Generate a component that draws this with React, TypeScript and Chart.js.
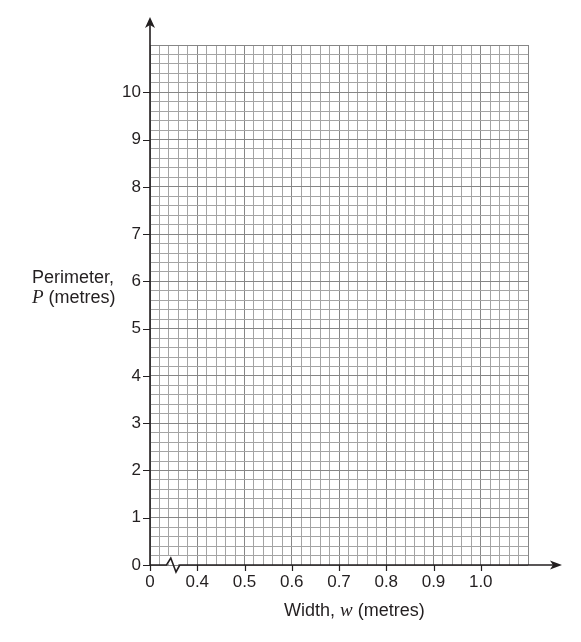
import React, { useEffect, useRef } from "react";
import { Chart, registerables } from "chart.js";

Chart.register(...registerables);

// ---- Data (blank answer grid) ----
// x axis has a break: its first position (0.3) is labelled "0"
const xAxisMin = 0.3;
const xAxisMax = 1.1;
const xMinorStep = 0.02;
const xTickValues = [0.3, 0.4, 0.5, 0.6, 0.7, 0.8, 0.9, 1.0];
const xTickLabels = ["0", "0.4", "0.5", "0.6", "0.7", "0.8", "0.9", "1.0"];

const yAxisMin = 0;
const yAxisMax = 11;
const yMinorStep = 0.2;
const yTickValues = [0, 1, 2, 3, 4, 5, 6, 7, 8, 9, 10];
const yTickLabels = ["0", "1", "2", "3", "4", "5", "6", "7", "8", "9", "10"];

// No points plotted: the grid is empty
const perimeterPoints: { x: number; y: number }[] = [];

const W = 581;
const H = 642;
const AREA_LEFT = 150;
const AREA_TOP = 45;
const AREA_RIGHT = 528;
const AREA_BOTTOM = 565;

const labelFont = { family: "'Liberation Sans', Arial, sans-serif", size: 17 };
const textColor = "#231f20";

function findLabel(values: number[], labels: string[], v: number): string {
  for (let i = 0; i < values.length; i++) {
    if (Math.abs(values[i] - v) < 1e-6) return labels[i];
  }
  return "";
}

const axesPlugin = {
  id: "axesPlugin",
  afterDraw(chart: any) {
    const ctx = chart.ctx as CanvasRenderingContext2D;
    const xs = chart.scales.x;
    const ys = chart.scales.y;
    const x0 = xs.getPixelForValue(xAxisMin);
    const y0 = ys.getPixelForValue(yAxisMin);
    const yTopPix = ys.getPixelForValue(yAxisMax);
    const xRightPix = xs.getPixelForValue(xAxisMax);
    ctx.save();
    ctx.strokeStyle = "#231f20";
    ctx.fillStyle = "#231f20";
    ctx.lineWidth = 1.6;
    ctx.lineJoin = "miter";

    // y axis line
    const yTip = yTopPix - 28;
    ctx.beginPath();
    ctx.moveTo(x0, y0);
    ctx.lineTo(x0, yTip + 8);
    ctx.stroke();
    // y arrowhead (notched)
    ctx.beginPath();
    ctx.moveTo(x0, yTip);
    ctx.lineTo(x0 + 5, yTip + 11);
    ctx.lineTo(x0, yTip + 8);
    ctx.lineTo(x0 - 5, yTip + 11);
    ctx.closePath();
    ctx.fill();

    // x axis line with zigzag break
    const zA = xs.getPixelForValue(0.335);
    const zB = xs.getPixelForValue(0.344);
    const zC = xs.getPixelForValue(0.355);
    const zD = xs.getPixelForValue(0.363);
    const xTip = xRightPix + 34;
    // mask under zigzag
    ctx.fillStyle = "#ffffff";
    ctx.fillRect(zA + 1, y0 - 9, zD - zA - 1, 8);
    ctx.fillStyle = "#231f20";
    ctx.beginPath();
    ctx.moveTo(x0, y0);
    ctx.lineTo(zA, y0);
    ctx.lineTo(zB, y0 - 7);
    ctx.lineTo(zC, y0 + 7);
    ctx.lineTo(zD, y0);
    ctx.lineTo(xTip - 8, y0);
    ctx.stroke();
    // x arrowhead
    ctx.beginPath();
    ctx.moveTo(xTip, y0);
    ctx.lineTo(xTip - 12, y0 - 4.5);
    ctx.lineTo(xTip - 9, y0);
    ctx.lineTo(xTip - 12, y0 + 4.5);
    ctx.closePath();
    ctx.fill();

    // tick marks
    ctx.lineWidth = 1.2;
    ctx.beginPath();
    yTickValues.forEach((v) => {
      const p = Math.round(ys.getPixelForValue(v)) + 0.5;
      ctx.moveTo(x0 - 7, p);
      ctx.lineTo(x0, p);
    });
    xTickValues.forEach((v) => {
      const p = Math.round(xs.getPixelForValue(v)) + 0.5;
      ctx.moveTo(p, y0);
      ctx.lineTo(p, y0 + 6);
    });
    ctx.stroke();
    ctx.restore();
  },
};

export default function App() {
  const canvasRef = useRef<HTMLCanvasElement | null>(null);

  useEffect(() => {
    const canvas = canvasRef.current;
    if (!canvas) return;
    const chart = new Chart(canvas, {
      type: "scatter",
      data: {
        datasets: [
          {
            label: "Perimeter",
            data: perimeterPoints,
            pointRadius: 3,
            backgroundColor: "#000",
          },
        ],
      },
      options: {
        animation: false,
        responsive: false,
        devicePixelRatio: 1,
        layout: {
          padding: { left: 0, top: AREA_TOP, right: W - AREA_RIGHT, bottom: 0 },
        },
        plugins: {
          legend: { display: false },
          tooltip: { enabled: false },
          title: { display: false },
        },
        scales: {
          x: {
            type: "linear",
            min: xAxisMin,
            max: xAxisMax,
            afterFit: (scale: any) => {
              scale.height = H - AREA_BOTTOM;
            },
            border: { display: false },
            grid: {
              drawTicks: false,
              lineWidth: 1,
              color: (c: any) => (c.index % 5 === 0 ? "#868686" : "#a4a4a4"),
            },
            ticks: {
              stepSize: xMinorStep,
              autoSkip: false,
              maxRotation: 0,
              minRotation: 0,
              padding: 7,
              color: textColor,
              font: labelFont,
              callback: (v: any) => findLabel(xTickValues, xTickLabels, Number(v)),
            },
          },
          y: {
            type: "linear",
            min: yAxisMin,
            max: yAxisMax,
            afterFit: (scale: any) => {
              scale.width = AREA_LEFT;
            },
            border: { display: false },
            grid: {
              drawTicks: false,
              lineWidth: 1,
              color: (c: any) => (c.index % 5 === 0 ? "#868686" : "#a4a4a4"),
            },
            ticks: {
              stepSize: yMinorStep,
              autoSkip: false,
              padding: 9,
              color: textColor,
              font: labelFont,
              callback: (v: any) => findLabel(yTickValues, yTickLabels, Number(v)),
            },
          },
        },
      },
      plugins: [axesPlugin],
    });
    return () => chart.destroy();
  }, []);

  const sans = "'Liberation Sans', Arial, sans-serif";
  const serif = "'Liberation Serif', 'Times New Roman', serif";

  return (
    <div
      style={{
        position: "absolute",
        left: 0,
        top: 0,
        width: W,
        height: H,
        background: "#fff",
        overflow: "hidden",
      }}
    >
      <canvas ref={canvasRef} width={W} height={H} style={{ display: "block" }} />
      <div
        style={{
          position: "absolute",
          left: 32,
          top: 267,
          fontFamily: sans,
          fontSize: 18,
          lineHeight: "20px",
          color: textColor,
          whiteSpace: "nowrap",
        }}
      >
        <div>Perimeter,</div>
        <div>
          <span style={{ fontFamily: serif, fontStyle: "italic", fontSize: 19 }}>P</span> (metres)
        </div>
      </div>
      <div
        style={{
          position: "absolute",
          left: 284,
          top: 600,
          fontFamily: sans,
          fontSize: 18,
          lineHeight: "20px",
          color: textColor,
          whiteSpace: "nowrap",
        }}
      >
        Width, <span style={{ fontFamily: serif, fontStyle: "italic", fontSize: 19 }}>w</span> (metres)
      </div>
    </div>
  );
}
